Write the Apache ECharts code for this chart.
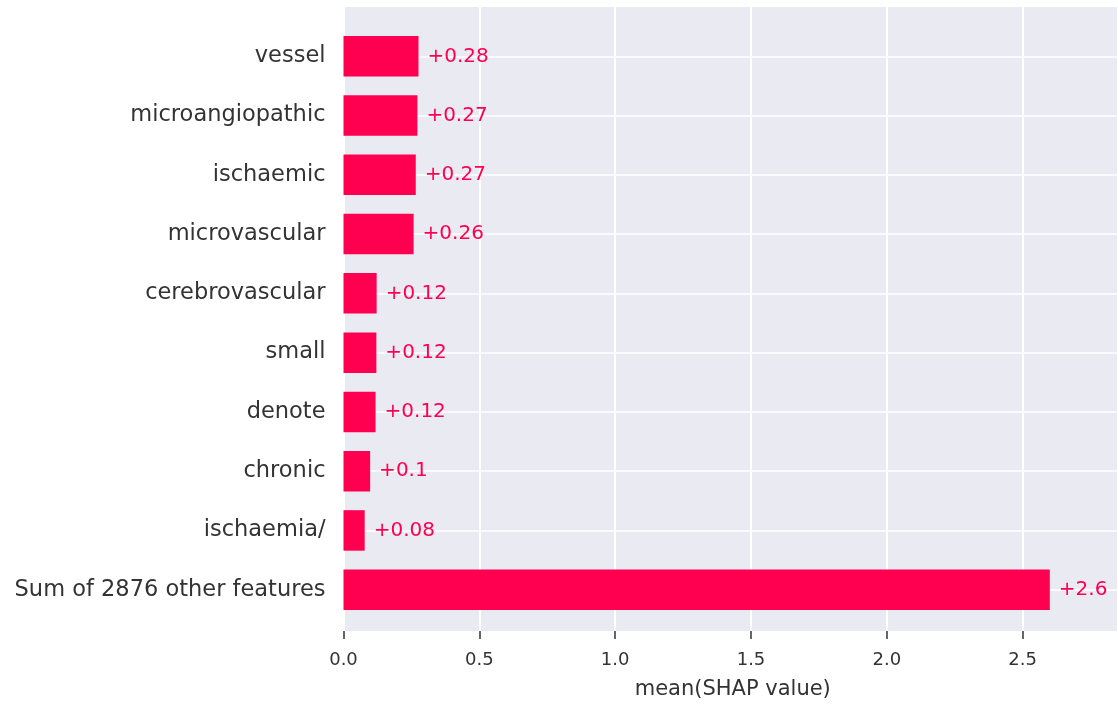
<!DOCTYPE html>
<html>
<head>
<meta charset="utf-8">
<script src="https://cdn.jsdelivr.net/npm/echarts@6/dist/echarts.min.js"></script>
<style>
html,body{margin:0;padding:0;background:#fff;}
#chart{width:1118px;height:705px;}
</style>
</head>
<body>
<div id="chart"></div>
<script>
const categories = ['vessel','microangiopathic','ischaemic','microvascular','cerebrovascular','small','denote','chronic','ischaemia/','Sum of 2876 other features'];
const values = [0.276, 0.272, 0.266, 0.258, 0.122, 0.121, 0.118, 0.098, 0.078, 2.6];
const xTicks = [0, 0.5, 1.0, 1.5, 2.0, 2.5];

const X_MAX = 2.851;
const RED = '#FF0051';
const FONT = 'DejaVu Sans';

function fmt(v){
  let s = v.toFixed(2);
  s = s.replace(/0+$/, '').replace(/\.$/, '');
  return '+' + s;
}

const chart = echarts.init(document.getElementById('chart'), null, {renderer:'canvas'});
chart.setOption({
  animation: false,
  textStyle: {fontFamily: FONT},
  grid: [
    {left: 343.5, right: 0, top: 56.3, bottom: 115.3, containLabel: false},
    {left: 343.5, right: 0, top: 7, bottom: 68.3, show: true, backgroundColor: '#EAEAF2', borderWidth: 0, containLabel: false}
  ],
  xAxis: [
    {gridIndex: 0, type: 'value', min: 0, max: X_MAX, show: false},
    {gridIndex: 1, type: 'value', min: 0, max: X_MAX, interval: 0.5, offset: 2,
     axisLine: {show: false},
     axisTick: {show: true, length: 8, lineStyle: {color: '#333', width: 1.5}},
     axisLabel: {show: true, margin: 18, fontSize: 18, color: '#333', fontFamily: FONT, showMaxLabel: false,
       formatter: function(v){ return xTicks.indexOf(+v.toFixed(3)) >= 0 ? v.toFixed(1) : ''; }},
     splitLine: {show: true, lineStyle: {color: '#FFFFFF', width: 2}},
     name: 'mean(SHAP value)', nameLocation: 'middle', nameGap: 46,
     nameTextStyle: {fontSize: 21, color: '#333', fontFamily: FONT, padding: [0, 0, 0, 4]}}
  ],
  yAxis: [
    {gridIndex: 0, type: 'category', data: categories, inverse: true, boundaryGap: false,
     axisLine: {show: false}, axisTick: {show: false},
     axisLabel: {margin: 18, fontSize: 22.5, color: '#333', fontFamily: FONT},
     splitLine: {show: true, lineStyle: {color: '#FFFFFF', width: 1.5}}},
    {gridIndex: 1, type: 'value', min: 0, max: 1, show: false, splitLine: {show: false}}
  ],
  series: [
    {type: 'bar', xAxisIndex: 0, yAxisIndex: 0, data: values, barWidth: 40.5, clip: false,
     itemStyle: {color: RED},
     label: {show: true, position: 'right', distance: 9, color: RED, fontSize: 20, fontFamily: FONT,
       formatter: function(p){ return fmt(p.value); }}}
  ]
});
</script>
</body>
</html>
